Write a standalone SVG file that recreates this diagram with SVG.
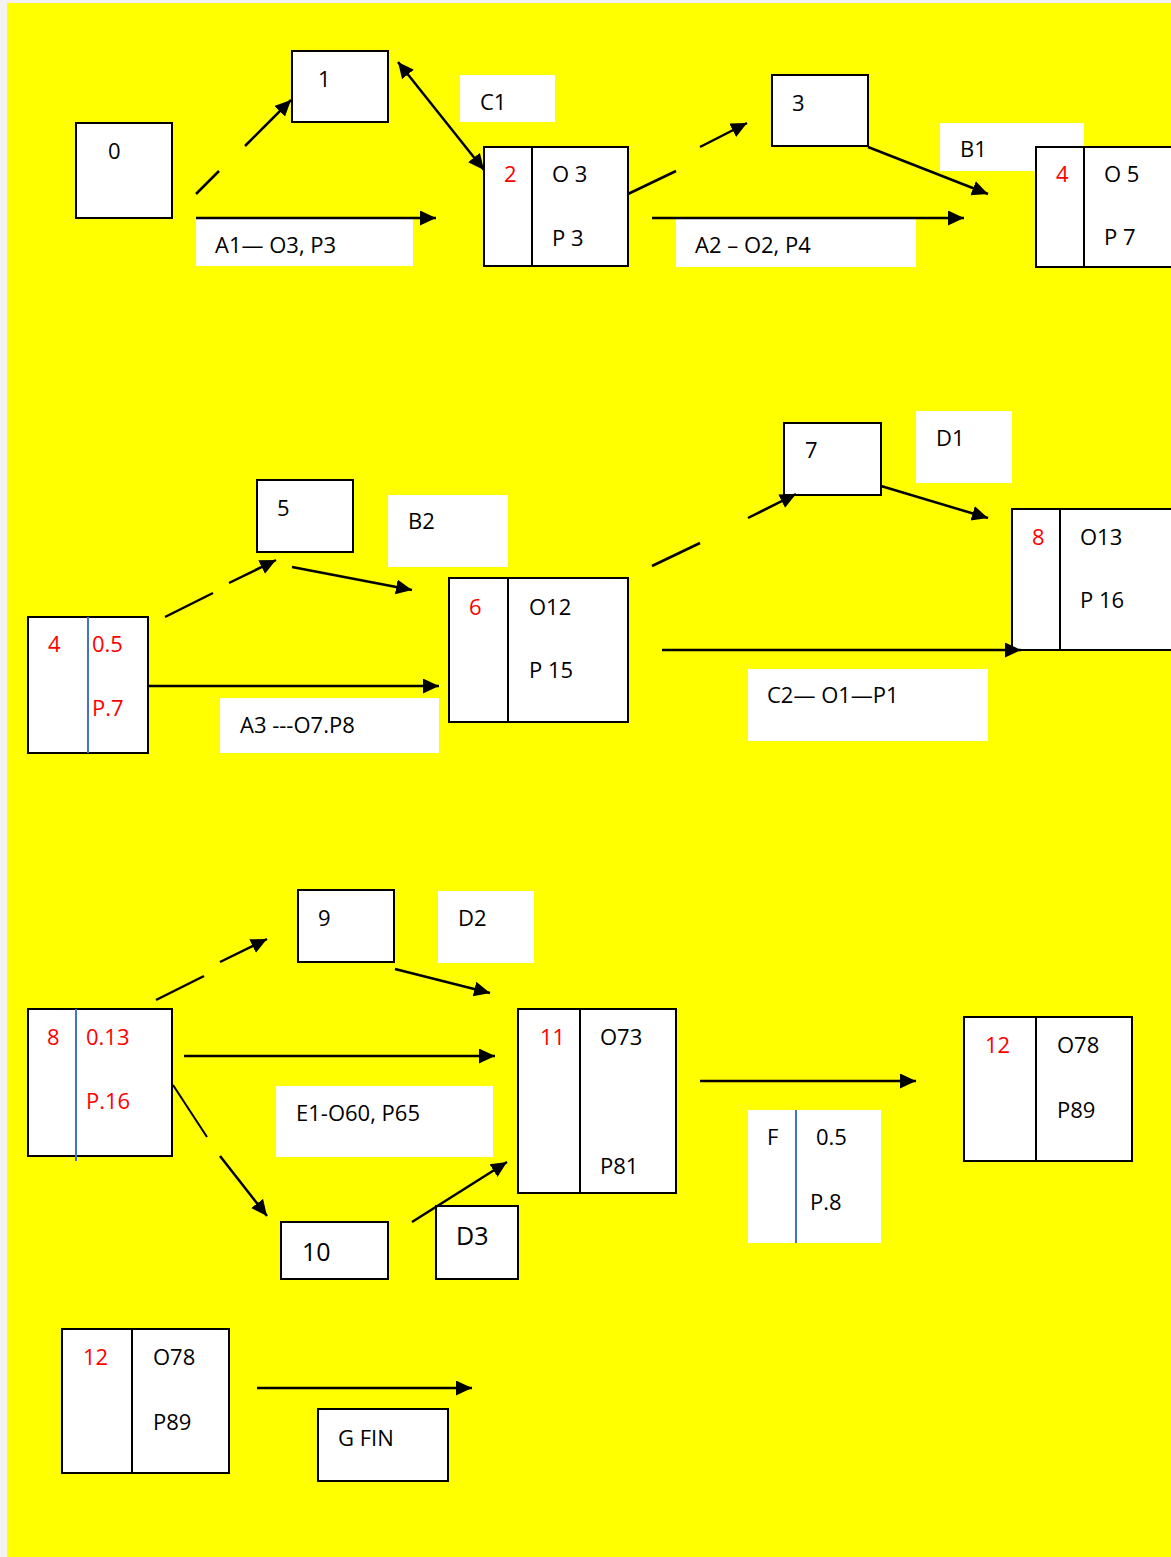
<svg xmlns="http://www.w3.org/2000/svg" width="1171" height="1557" viewBox="0 0 1171 1557">
<defs>
<marker id="ah" markerUnits="userSpaceOnUse" markerWidth="18" markerHeight="16" refX="16" refY="7.5" orient="auto-start-reverse">
<path d="M0,0 L16,7.5 L0,15 z" fill="#000"/>
</marker>
<style>
.bx{fill:#fff;stroke:#000;stroke-width:2}
.lb{fill:#fff;stroke:none}
.dv{stroke:#000;stroke-width:2}
.bl{stroke:#4472C4;stroke-width:2}
.t{font-family:"Open Sans","Liberation Sans",sans-serif;font-size:22px;fill:#000}
.r{fill:#ff0000}
.big{font-size:25px}
.c line{stroke:#000;stroke-width:2.5;fill:none}
</style>
</defs>
<rect x="0" y="0" width="1171" height="1557" fill="#f2f2f2"/>
<rect x="7" y="3" width="1164" height="1554" fill="#ffff00"/>

<g id="labels">
<g id="lbl-C1"><rect class="lb" x="460" y="75" width="95" height="47"/><text class="t" x="480" y="110">C1</text></g>
<g id="lbl-A1"><rect class="lb" x="196" y="219" width="217" height="47"/><text class="t" x="215" y="253">A1— O3, P3</text></g>
<g id="lbl-B1"><rect class="lb" x="940" y="123" width="144" height="48"/><text class="t" x="960" y="157">B1</text></g>
<g id="lbl-A2"><rect class="lb" x="676" y="219" width="240" height="48"/><text class="t" x="695" y="253">A2 – O2, P4</text></g>
<g id="lbl-B2"><rect class="lb" x="388" y="495" width="120" height="72"/><text class="t" x="408" y="529">B2</text></g>
<g id="lbl-A3"><rect class="lb" x="220" y="698" width="219" height="55"/><text class="t" x="240" y="733">A3 ---O7.P8</text></g>
<g id="lbl-D1"><rect class="lb" x="916" y="411" width="96" height="72"/><text class="t" x="936" y="446">D1</text></g>
<g id="lbl-C2"><rect class="lb" x="748" y="669" width="240" height="72"/><text class="t" x="767" y="703">C2— O1—P1</text></g>
<g id="lbl-D2"><rect class="lb" x="438" y="891" width="96" height="72"/><text class="t" x="458" y="926">D2</text></g>
<g id="lbl-E1"><rect class="lb" x="276" y="1086" width="217" height="71"/><text class="t" x="296" y="1121">E1-O60, P65</text></g>
<g id="lbl-F"><rect class="lb" x="748" y="1110" width="133" height="133"/><line class="bl" x1="796" y1="1110" x2="796" y2="1243"/><text class="t" x="767" y="1145">F</text><text class="t" x="816" y="1145">0.5</text><text class="t" x="810" y="1210">P.8</text></g>
</g>

<g id="n0"><rect class="bx" x="76" y="123" width="96" height="95"/><text class="t" x="108" y="159">0</text></g>
<g id="n1"><rect class="bx" x="292" y="51" width="96" height="71"/><text class="t" x="318" y="87">1</text></g>
<g id="n2"><rect class="bx" x="484" y="147" width="144" height="119"/><line class="dv" x1="532" y1="147" x2="532" y2="266"/><text class="t r" x="504" y="182">2</text><text class="t" x="552" y="182">O 3</text><text class="t" x="552" y="246">P 3</text></g>
<g id="n3"><rect class="bx" x="772" y="75" width="96" height="71"/><text class="t" x="792" y="111">3</text></g>
<g id="n4"><rect class="bx" x="1036" y="147" width="150" height="120"/><line class="dv" x1="1084" y1="147" x2="1084" y2="267"/><text class="t r" x="1056" y="182">4</text><text class="t" x="1104" y="182">O 5</text><text class="t" x="1104" y="245">P 7</text></g>

<g id="n4b"><rect class="bx" x="28" y="617" width="120" height="136"/><line class="bl" x1="88" y1="617" x2="88" y2="753"/><text class="t r" x="48" y="652">4</text><text class="t r" x="92" y="652">0.5</text><text class="t r" x="92" y="716">P.7</text></g>
<g id="n5"><rect class="bx" x="257" y="480" width="96" height="72"/><text class="t" x="277" y="516">5</text></g>
<g id="n6"><rect class="bx" x="449" y="578" width="179" height="144"/><line class="dv" x1="508" y1="578" x2="508" y2="722"/><text class="t r" x="469" y="615">6</text><text class="t" x="529" y="615">O12</text><text class="t" x="529" y="678">P 15</text></g>
<g id="n7"><rect class="bx" x="784" y="423" width="97" height="72"/><text class="t" x="805" y="458">7</text></g>
<g id="n8"><rect class="bx" x="1012" y="509" width="175" height="141"/><line class="dv" x1="1060" y1="509" x2="1060" y2="650"/><text class="t r" x="1032" y="545">8</text><text class="t" x="1080" y="545">O13</text><text class="t" x="1080" y="608">P 16</text></g>

<g id="n8b"><rect class="bx" x="28" y="1009" width="144" height="147"/><line class="bl" x1="76" y1="1009" x2="76" y2="1161"/><text class="t r" x="47" y="1045">8</text><text class="t r" x="86" y="1045">0.13</text><text class="t r" x="86" y="1109">P.16</text></g>
<g id="n9"><rect class="bx" x="298" y="890" width="96" height="72"/><text class="t" x="318" y="926">9</text></g>
<g id="n10"><rect class="bx" x="281" y="1222" width="107" height="57"/><text class="t big" x="302" y="1261">10</text></g>
<g id="nD3"><rect class="bx" x="436" y="1206" width="82" height="73"/><text class="t big" x="456" y="1245">D3</text></g>
<g id="n11"><rect class="bx" x="518" y="1009" width="158" height="184"/><line class="dv" x1="580" y1="1009" x2="580" y2="1193"/><text class="t r" x="540" y="1045">11</text><text class="t" x="600" y="1045">O73</text><text class="t" x="600" y="1174">P81</text></g>
<g id="n12"><rect class="bx" x="964" y="1017" width="168" height="144"/><line class="dv" x1="1036" y1="1017" x2="1036" y2="1161"/><text class="t r" x="985" y="1053">12</text><text class="t" x="1057" y="1053">O78</text><text class="t" x="1057" y="1118">P89</text></g>

<g id="n12b"><rect class="bx" x="62" y="1329" width="167" height="144"/><line class="dv" x1="132" y1="1329" x2="132" y2="1473"/><text class="t r" x="83" y="1365">12</text><text class="t" x="153" y="1365">O78</text><text class="t" x="153" y="1430">P89</text></g>
<g id="nG"><rect class="bx" x="318" y="1409" width="130" height="72"/><text class="t" x="338" y="1446">G FIN</text></g>

<g id="connectors" class="c">
<line x1="196" y1="194" x2="219" y2="171"/>
<line x1="245" y1="146" x2="291" y2="100" marker-end="url(#ah)"/>
<line x1="398" y1="62" x2="484" y2="170" marker-start="url(#ah)" marker-end="url(#ah)"/>
<line x1="196" y1="218" x2="436" y2="218" marker-end="url(#ah)"/>
<line x1="628" y1="194" x2="676" y2="171"/>
<line x1="700" y1="147" x2="747" y2="123" marker-end="url(#ah)"/>
<line x1="868" y1="147" x2="988" y2="194" marker-end="url(#ah)"/>
<line x1="652" y1="218" x2="964" y2="218" marker-end="url(#ah)"/>

<line x1="165" y1="617" x2="213" y2="593"/>
<line x1="229" y1="583" x2="276" y2="560" marker-end="url(#ah)"/>
<line x1="292" y1="567" x2="412" y2="590" marker-end="url(#ah)"/>
<line x1="148" y1="686" x2="439" y2="686" marker-end="url(#ah)"/>
<line x1="652" y1="566" x2="700" y2="543"/>
<line x1="748" y1="518" x2="796" y2="494" marker-end="url(#ah)"/>
<line x1="881" y1="486" x2="988" y2="518" marker-end="url(#ah)"/>
<line x1="662" y1="650" x2="1021" y2="650" marker-end="url(#ah)"/>

<line x1="156" y1="1000" x2="204" y2="976"/>
<line x1="220" y1="962" x2="267" y2="939" marker-end="url(#ah)"/>
<line x1="395" y1="969" x2="490" y2="993" marker-end="url(#ah)"/>
<line x1="184" y1="1056" x2="495" y2="1056" marker-end="url(#ah)"/>
<line x1="173" y1="1085" x2="207" y2="1137" style="stroke-width:2"/>
<line x1="220" y1="1156" x2="267" y2="1216" marker-end="url(#ah)"/>
<line x1="412" y1="1222" x2="507" y2="1162" marker-end="url(#ah)"/>
<line x1="700" y1="1081" x2="916" y2="1081" marker-end="url(#ah)"/>
<line x1="257" y1="1388" x2="472" y2="1388" marker-end="url(#ah)"/>
</g>
</svg>
